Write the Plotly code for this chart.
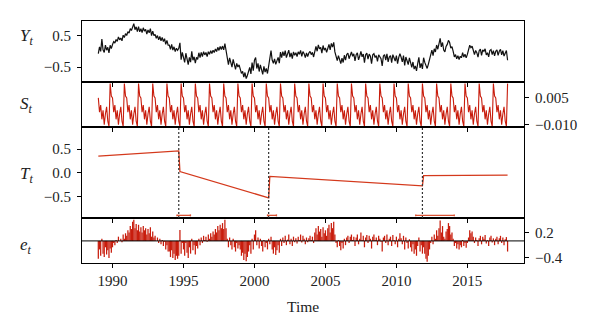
import numpy as np
import plotly.graph_objects as go

# ---------------------------------------------------------------
# Monthly series, January 1989 - November 2017
# ---------------------------------------------------------------
start_year = 1989
n_obs = 347

# Seasonal component, one value per calendar month (Jan..Dec)
season_profile = [0.005, -0.003, 0.001, -0.007, -0.002, -0.010,
                  -0.004, 0.000, -0.008, -0.011, 0.013, 0.006]

# Piecewise linear trend: observation index and value at each segment end
seg_start_idx = [0, 69, 145, 275]
seg_end_idx = [68, 144, 274, 346]
seg_start_val = [0.35, 0.03, -0.07, -0.055]
seg_end_val = [0.46, -0.52, -0.27, -0.045]

# Breakpoints (last observation of each segment) and their confidence intervals
break_idx = [68, 144, 274]
ci_low = [1994.54, 2000.92, 2011.36]
ci_high = [1995.49, 2001.55, 2014.08]

# Remainder component, one row per year
resid_1989 = [-0.42, -0.20, -0.35, 0.05, -0.30, -0.38, -0.15, -0.32, -0.22, -0.40, -0.18, -0.28]
resid_1990 = [-0.15, -0.05, -0.10, 0.02, -0.05, 0.10, 0.00, 0.05, -0.03, 0.15, 0.05, 0.18]
resid_1991 = [0.12, 0.25, 0.20, 0.35, 0.28, 0.45, 0.50, 0.30, 0.40, 0.25, 0.38, 0.22]
resid_1992 = [0.32, 0.20, 0.35, 0.25, 0.30, 0.15, 0.28, 0.18, 0.32, 0.10, 0.22, 0.08]
resid_1993 = [0.12, 0.00, 0.08, -0.05, 0.05, -0.08, 0.02, -0.12, -0.02, -0.20, -0.10, -0.25]
resid_1994 = [-0.25, -0.38, -0.22, -0.40, -0.30, -0.45, -0.35, -0.42, -0.35, 0.26, -0.30, -0.05]
resid_1995 = [-0.20, -0.35, -0.05, -0.28, -0.40, -0.15, -0.30, 0.05, -0.22, -0.10, -0.32, -0.12]
resid_1996 = [-0.18, 0.05, -0.10, 0.08, -0.05, 0.12, 0.02, 0.10, -0.02, 0.15, 0.05, 0.18]
resid_1997 = [0.10, 0.22, 0.15, 0.28, 0.20, 0.35, 0.25, 0.38, 0.30, 0.42, 0.28, 0.50]
resid_1998 = [0.30, 0.05, -0.15, 0.08, -0.10, -0.20, 0.05, -0.15, -0.25, -0.05, -0.18, -0.10]
resid_1999 = [-0.20, -0.35, -0.28, -0.45, -0.30, -0.48, -0.38, -0.25, -0.10, -0.30, 0.05, -0.20]
resid_2000 = [0.15, 0.25, -0.10, 0.08, -0.18, 0.05, -0.12, -0.25, 0.02, -0.15, -0.05, -0.20]
resid_2001 = [0.05, -0.08, 0.10, -0.20, -0.30, -0.15, -0.33, -0.22, -0.10, -0.28, 0.05, -0.12]
resid_2002 = [0.08, -0.05, 0.12, -0.10, 0.03, 0.15, -0.08, 0.05, -0.12, 0.10, -0.03, 0.06]
resid_2003 = [-0.06, 0.10, 0.02, 0.15, -0.04, 0.12, 0.05, -0.08, 0.08, -0.03, 0.06, 0.12]
resid_2004 = [0.02, 0.10, -0.05, 0.20, 0.30, 0.15, 0.35, 0.22, 0.28, 0.10, 0.32, 0.18]
resid_2005 = [0.25, 0.12, 0.30, 0.38, 0.20, 0.42, 0.30, 0.45, 0.15, -0.05, -0.15, 0.02]
resid_2006 = [-0.12, -0.22, -0.05, -0.18, 0.05, -0.10, 0.08, 0.12, -0.05, 0.10, 0.15, 0.02]
resid_2007 = [0.10, -0.12, 0.08, 0.15, -0.08, 0.05, 0.20, 0.02, 0.12, -0.15, 0.08, 0.14]
resid_2008 = [-0.05, 0.12, 0.05, -0.18, 0.10, 0.15, 0.02, 0.08, -0.10, 0.12, 0.05, -0.02]
resid_2009 = [-0.25, 0.08, 0.12, -0.05, 0.15, -0.10, 0.05, 0.10, -0.12, 0.14, 0.02, -0.08]
resid_2010 = [0.10, -0.15, 0.05, 0.18, 0.06, -0.08, 0.12, -0.20, 0.08, -0.05, -0.18, 0.04]
resid_2011 = [-0.15, -0.25, -0.08, -0.30, -0.20, -0.35, -0.12, 0.08, -0.25, -0.10, -0.30, -0.15]
resid_2012 = [-0.30, -0.42, -0.49, -0.35, -0.20, -0.05, 0.10, -0.08, 0.15, 0.05, 0.25, 0.12]
resid_2013 = [0.30, 0.48, 0.20, 0.35, 0.10, 0.05, 0.22, 0.28, 0.42, 0.35, 0.15, 0.20]
resid_2014 = [0.05, -0.12, -0.05, -0.18, -0.08, -0.20, -0.10, -0.15, 0.02, -0.12, -0.05, -0.16]
resid_2015 = [-0.05, 0.08, 0.25, 0.18, 0.22, 0.10, -0.05, 0.08, 0.02, -0.12, 0.06, 0.12]
resid_2016 = [-0.08, 0.10, 0.05, 0.14, -0.06, 0.02, -0.12, 0.08, 0.12, -0.04, 0.06, -0.10]
resid_2017 = [0.05, 0.10, -0.08, 0.06, 0.12, -0.05, 0.08, -0.10, 0.04, 0.09, -0.25]

year_ticks = [1990, 1995, 2000, 2005, 2010, 2015]

# Tick marks of each panel and the subset that carries a label
obs_ticks, obs_labels = [-0.5, 0, 0.5], ["\u22120.5", "0.5"]
obs_label_vals = [-0.5, 0.5]
sea_ticks = [-0.010, -0.005, 0, 0.005, 0.010]
sea_label_vals, sea_labels = [-0.010, 0.005], ["\u22120.010", "0.005"]
trd_ticks = [-0.5, 0, 0.5]
trd_label_vals, trd_labels = [-0.5, 0, 0.5], ["\u22120.5", "0.0", "0.5"]
rem_ticks = [-0.4, -0.2, 0, 0.2, 0.4]
rem_label_vals, rem_labels = [-0.4, 0.2], ["\u22120.4", "0.2"]

# ---------------------------------------------------------------
# Assemble the components
# ---------------------------------------------------------------
time = start_year + np.arange(n_obs) / 12.0

resid = np.concatenate([
    resid_1989, resid_1990, resid_1991, resid_1992, resid_1993, resid_1994,
    resid_1995, resid_1996, resid_1997, resid_1998, resid_1999, resid_2000,
    resid_2001, resid_2002, resid_2003, resid_2004, resid_2005, resid_2006,
    resid_2007, resid_2008, resid_2009, resid_2010, resid_2011, resid_2012,
    resid_2013, resid_2014, resid_2015, resid_2016, resid_2017,
])

season = np.array([season_profile[i % 12] for i in range(n_obs)])

trend = np.empty(n_obs)
for a, b, va, vb in zip(seg_start_idx, seg_end_idx, seg_start_val, seg_end_val):
    trend[a:b + 1] = np.linspace(va, vb, b - a + 1)

observed = trend + season + resid

# Trend drawn through its segment end points
trend_x, trend_y = [], []
for a, b, va, vb in zip(seg_start_idx, seg_end_idx, seg_start_val, seg_end_val):
    trend_x += [time[a], time[b]]
    trend_y += [va, vb]

# Remainder as vertical spikes from zero
spike_x, spike_y = [], []
for t, r in zip(time, resid):
    spike_x += [t, t, None]
    spike_y += [0.0, r, None]

# Confidence intervals of the breaks, with end caps
ci_level = -0.885
cap = 0.02
ci_x, ci_y = [], []
for lo, hi in zip(ci_low, ci_high):
    ci_x += [lo, hi, None, lo, lo, None, hi, hi, None]
    ci_y += [ci_level, ci_level, None, ci_level - cap, ci_level + cap, None,
             ci_level - cap, ci_level + cap, None]

# ---------------------------------------------------------------
# Figure
# ---------------------------------------------------------------
RED = "#c81c0c"
TREND = "#d4391c"
CI = "#dc5536"
FONT = "Liberation Serif"
TXT = "#222222"

fig = go.Figure()
fig.add_trace(go.Scatter(x=time, y=observed, mode="lines",
                         line=dict(color="#111111", width=1.2),
                         xaxis="x", yaxis="y", hoverinfo="skip"))
fig.add_trace(go.Scatter(x=time, y=season, mode="lines",
                         line=dict(color=RED, width=1.1),
                         xaxis="x2", yaxis="y2", hoverinfo="skip"))
fig.add_trace(go.Scatter(x=trend_x, y=trend_y, mode="lines",
                         line=dict(color=TREND, width=1.3),
                         xaxis="x3", yaxis="y3", hoverinfo="skip"))
fig.add_trace(go.Scatter(x=ci_x, y=ci_y, mode="lines",
                         line=dict(color=CI, width=1.3),
                         xaxis="x3", yaxis="y3", hoverinfo="skip"))
fig.add_trace(go.Scatter(x=spike_x, y=spike_y, mode="lines",
                         line=dict(color=RED, width=1.25),
                         xaxis="x4", yaxis="y4", hoverinfo="skip"))

x_range = [1987.85, 2018.99]

def x_axis(anchor, labels):
    return dict(domain=[0, 1], anchor=anchor, range=x_range,
                tickvals=year_ticks, ticktext=[str(y) for y in year_ticks],
                showticklabels=labels, ticks="outside", ticklen=4,
                tickwidth=1, tickcolor="black",
                showline=True, linecolor="black", linewidth=1, mirror=True,
                showgrid=False, zeroline=False,
                tickfont=dict(family=FONT, size=15, color=TXT))

def y_axis(anchor, domain, rng, vals, text, side):
    # labelled axis: ticks only where a label is written
    return dict(domain=domain, anchor=anchor, range=rng, side=side,
                tickvals=vals, ticktext=text, ticks="outside", ticklen=4,
                tickwidth=1, tickcolor="black", ticklabelstandoff=3,
                showline=True, linecolor="black", linewidth=1, mirror=True,
                showgrid=False, zeroline=False,
                tickfont=dict(family=FONT, size=15, color=TXT))

def y_ticks_only(over, anchor, domain, rng, vals):
    # companion axis that draws every tick mark on both sides
    return dict(overlaying=over, anchor=anchor, domain=domain, range=rng,
                side="left", tickvals=vals, showticklabels=False,
                ticks="outside", ticklen=4, tickwidth=1, tickcolor="black",
                showline=False, mirror="ticks", showgrid=False,
                zeroline=False)

dom_obs, rng_obs = [0.7479, 1.0], [-0.98, 0.98]
dom_sea, rng_sea = [0.5620, 0.7479], [-0.0113, 0.0139]
dom_trd, rng_trd = [0.1860, 0.5620], [-0.94, 0.96]
dom_rem, rng_rem = [0.0, 0.1860], [-0.52, 0.54]

fig.update_layout(
    width=600, height=333,
    margin=dict(l=82, r=76, t=21, b=70),
    paper_bgcolor="white", plot_bgcolor="white",
    showlegend=False,
    xaxis=x_axis("y", False),
    xaxis2=x_axis("y2", False),
    xaxis3=x_axis("y3", False),
    xaxis4=x_axis("y4", True),
    yaxis=y_axis("x", dom_obs, rng_obs, obs_label_vals, obs_labels, "left"),
    yaxis2=y_axis("x2", dom_sea, rng_sea, sea_label_vals, sea_labels, "right"),
    yaxis3=y_axis("x3", dom_trd, rng_trd, trd_label_vals, trd_labels, "left"),
    yaxis4=y_axis("x4", dom_rem, rng_rem, rem_label_vals, rem_labels, "right"),
    yaxis5=y_ticks_only("y", "x", dom_obs, rng_obs, obs_ticks),
    yaxis6=y_ticks_only("y2", "x2", dom_sea, rng_sea, sea_ticks),
    yaxis7=y_ticks_only("y3", "x3", dom_trd, rng_trd, trd_ticks),
    yaxis8=y_ticks_only("y4", "x4", dom_rem, rng_rem, rem_ticks),
)

# Break positions in the trend panel and the zero line of the remainder
shapes = []
for b in break_idx:
    shapes.append(dict(type="line", xref="x3", yref="y3 domain",
                       x0=time[b], x1=time[b], y0=0, y1=1,
                       line=dict(color="#333333", width=1.2, dash="2px,2px")))
shapes.append(dict(type="line", xref="x4 domain", yref="y4",
                   x0=0, x1=1, y0=0, y1=0,
                   line=dict(color="black", width=1)))
fig.update_layout(shapes=shapes)

# Panel labels and axis title
def px_x(p):
    return (p - 82) / 442.0

def px_y(p):
    return (263 - p) / 242.0

labels = [("<i>Y<sub>t</sub></i>", 37), ("<i>S<sub>t</sub></i>", 105),
          ("<i>T<sub>t</sub></i>", 175), ("<i>e<sub>t</sub></i>", 246)]
annotations = []
for txt, py in labels:
    annotations.append(dict(text=txt, xref="paper", yref="paper",
                            x=px_x(26), y=px_y(py), xanchor="center",
                            yanchor="middle", showarrow=False,
                            font=dict(family=FONT, size=17, color=TXT)))
annotations.append(dict(text="Time", xref="paper", yref="paper",
                        x=px_x(303), y=px_y(306), xanchor="center",
                        yanchor="middle", showarrow=False,
                        font=dict(family=FONT, size=15.5, color=TXT)))
fig.update_layout(annotations=annotations)

fig.write_html("out.html")
